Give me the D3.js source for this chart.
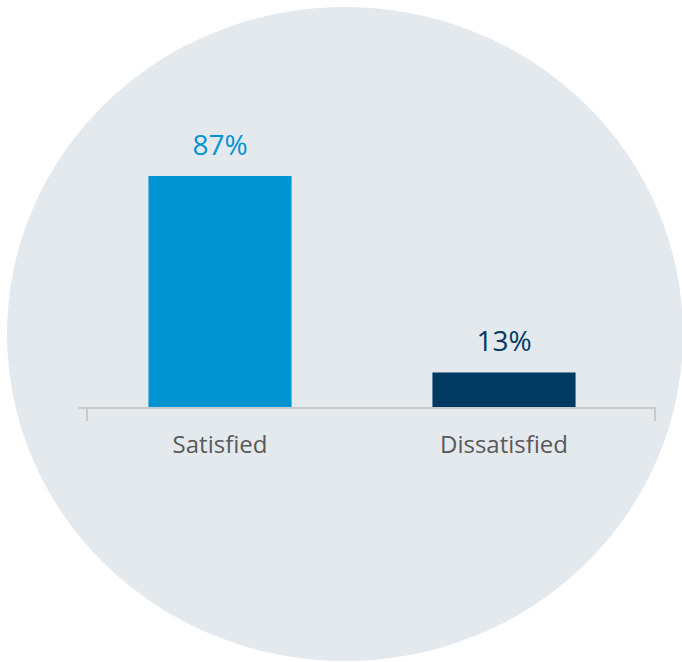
<!DOCTYPE html>
<html>
<head>
<meta charset="utf-8">
<script src="https://cdn.jsdelivr.net/npm/d3@7"></script>
<style>
  html, body { margin: 0; padding: 0; background: #ffffff; }
  svg { display: block; }
</style>
</head>
<body>
<script>
// chart data
const categories = ['Satisfied', 'Dissatisfied'];
const values = [87, 13];
const valueLabels = ['87%', '13%'];
const barColors = ['#0094d2', '#003a63'];

const width = 682;
const height = 662;

const svg = d3
  .select('body')
  .append('svg')
  .attr('width', width)
  .attr('height', height)
  .attr('viewBox', `0 0 ${width} ${height}`);

// Background disc
svg
  .append('ellipse')
  .attr('cx', 345)
  .attr('cy', 334)
  .attr('rx', 338)
  .attr('ry', 327)
  .attr('fill', '#e4e9ee');

const x = d3
  .scaleBand()
  .domain(categories)
  .range([78, 646])
  .paddingInner(0.496)
  .paddingOuter(0.248);

const y = d3.scaleLinear().domain([0, 100]).range([407, 141.5]);

// Bars
svg
  .selectAll('rect.bar')
  .data(categories)
  .enter()
  .append('rect')
  .attr('class', 'bar')
  .attr('x', d => x(d))
  .attr('y', (d, i) => y(values[i]))
  .attr('width', x.bandwidth())
  .attr('height', (d, i) => y(0) - y(values[i]))
  .attr('fill', (d, i) => barColors[i]);

// Value labels
svg
  .selectAll('text.value')
  .data(categories)
  .enter()
  .append('text')
  .attr('class', 'value')
  .attr('x', d => x(d) + x.bandwidth() / 2)
  .attr('y', (d, i) => y(values[i]) - 21)
  .attr('text-anchor', 'middle')
  .attr('font-family', 'Open Sans, sans-serif')
  .attr('font-size', 28)
  .attr('fill', (d, i) => barColors[i])
  .text((d, i) => valueLabels[i]);

// Category axis (Excel style line with end ticks)
const axisY = y(0) + 1;
const axis = svg.append('g').attr('stroke', '#cbcbcb').attr('stroke-width', 2);
axis
  .append('line')
  .attr('x1', 78)
  .attr('x2', 656)
  .attr('y1', axisY)
  .attr('y2', axisY);
[87, 655].forEach(tx => {
  axis
    .append('line')
    .attr('x1', tx)
    .attr('x2', tx)
    .attr('y1', axisY)
    .attr('y2', axisY + 13);
});

// Category labels
svg
  .selectAll('text.cat')
  .data(categories)
  .enter()
  .append('text')
  .attr('class', 'cat')
  .attr('x', d => x(d) + x.bandwidth() / 2)
  .attr('y', 453)
  .attr('text-anchor', 'middle')
  .attr('font-family', 'Open Sans, sans-serif')
  .attr('font-size', 24)
  .attr('fill', '#595959')
  .text(d => d);
</script>
</body>
</html>
